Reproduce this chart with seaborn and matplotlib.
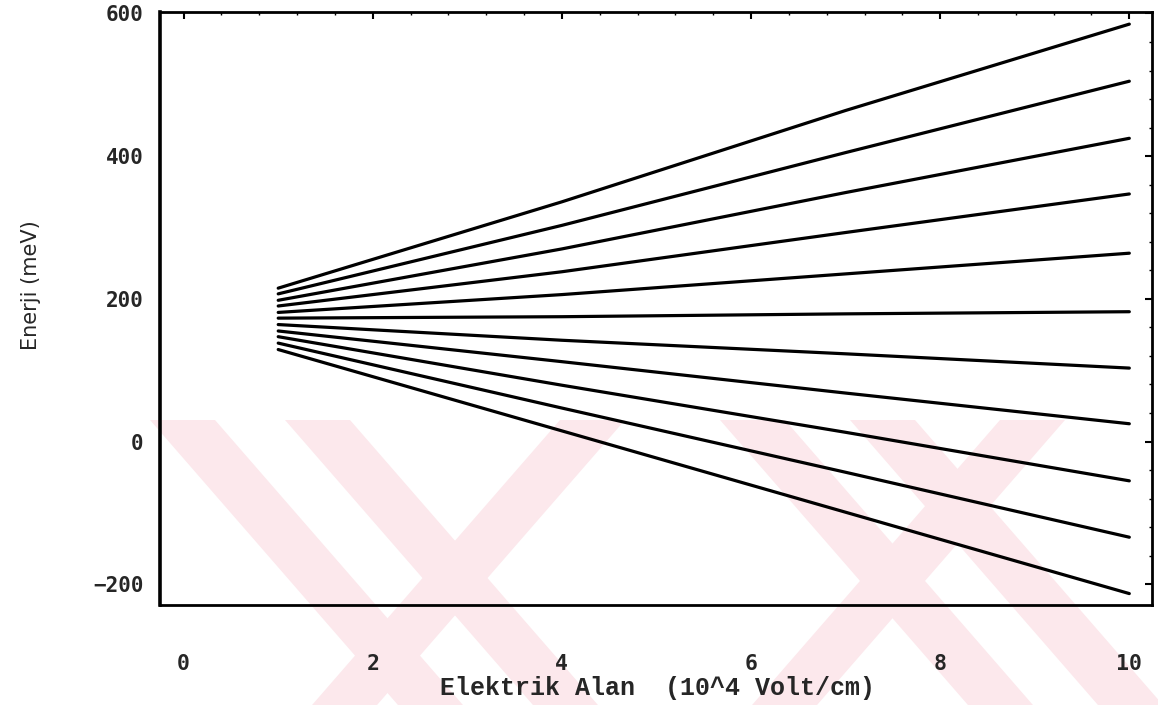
import matplotlib
matplotlib.use("Agg")
import matplotlib.pyplot as plt
from matplotlib.patches import Polygon
from matplotlib.ticker import MultipleLocator
import numpy as np
import pandas as pd
import seaborn as sns

# Electric field (10^4 V/cm) at which the levels are sampled
field = [1, 4, 7, 10]

# Energy of each of the eleven Stark levels (meV), top level first
energy_f1 = [215, 207, 198, 190, 181, 173, 164, 155, 147, 138, 129]
energy_f4 = [336, 303, 270, 238, 206, 175, 142, 112, 79, 47, 15]
energy_f7 = [464, 405, 349, 293, 235, 179, 123, 68, 13, -43, -99]
energy_f10 = [585, 505, 425, 347, 264, 182, 103, 25, -55, -134, -213]

x_ticks = [0, 2, 4, 6, 8, 10]
y_ticks = [-200, 0, 200, 400, 600]

x_label = "Elektrik Alan  (10^4 Volt/cm)"
y_label = "Enerji (meV)"

rows = []
for f, col in zip(field, [energy_f1, energy_f4, energy_f7, energy_f10]):
    for level, e in enumerate(col):
        rows.append({"field": f, "energy": e, "level": level})
df = pd.DataFrame(rows)

sns.set_theme(style="white")
plt.rcParams["font.family"] = ["DejaVu Sans"]

W, H = 1158, 705
fig = plt.figure(figsize=(W / 100, H / 100), dpi=100)
fig.patch.set_facecolor("white")

# faint pink emblem in the background of the page
pink = "#fce8ec"
def band(x_top, width, slope, y0=420, y1=705):
    dx = slope * (y1 - y0)
    pts = [(x_top, y0), (x_top + width, y0), (x_top + width + dx, y1), (x_top + dx, y1)]
    return [(px / W, 1 - py / H) for px, py in pts]

for x_top, slope in [(150, 0.87), (285, 0.87), (560, -0.87), (720, 0.87),
                     (850, 0.87), (1000, -0.87)]:
    fig.patches.append(Polygon(band(x_top, 65, slope), closed=True,
                               transform=fig.transFigure, facecolor=pink,
                               edgecolor="none", zorder=-5))

left, right, top, bottom = 160, 1152, 12, 605
ax = fig.add_axes([left / W, 1 - bottom / H, (right - left) / W, (bottom - top) / H])
ax.set_facecolor("none")
ax.set_zorder(2)

sns.lineplot(data=df, x="field", y="energy", units="level", estimator=None,
             color="black", linewidth=2.3, legend=False, ax=ax)

ax.set_xlim(-0.25, 10.24)
ax.set_ylim(-229, 602)
ax.set_xticks(x_ticks)
ax.set_yticks(y_ticks)
ax.xaxis.set_minor_locator(MultipleLocator(0.4))
ax.yaxis.set_minor_locator(MultipleLocator(40))
ax.set_xticklabels([str(t) for t in x_ticks], fontfamily="DejaVu Sans Mono",
                   fontweight="bold", fontsize=15.5)
ax.set_yticklabels([str(t).replace("-", "\u2212") for t in y_ticks],
                   fontfamily="DejaVu Sans Mono", fontweight="bold", fontsize=15)
ax.tick_params(axis="both", which="major", direction="in", length=5, width=1.5,
               color="black", top=True, right=True)
ax.tick_params(axis="both", which="minor", direction="in", length=2.5, width=1.0,
               color="black", top=True, right=True)
ax.tick_params(axis="x", which="major", pad=35)
ax.tick_params(axis="y", which="major", pad=12)

for s in ax.spines.values():
    s.set_visible(True)
    s.set_color("black")
    s.set_linewidth(2.0)
ax.spines["left"].set_linewidth(2.6)

ax.set_xlabel(x_label, fontfamily="Liberation Mono", fontweight="bold", fontsize=18)
ax.set_ylabel(y_label, fontfamily="DejaVu Sans", fontsize=15)
ax.xaxis.set_label_coords(0.502, -0.12)
ax.yaxis.set_label_coords(-0.12, 0.54)

fig.savefig("out.png", dpi=100, facecolor="white")
